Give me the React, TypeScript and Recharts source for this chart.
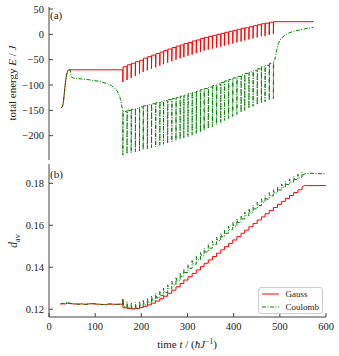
import React from 'react'
import { LineChart, Line, XAxis, YAxis, Legend } from 'recharts'

const FONT = '"Liberation Serif", "DejaVu Serif", serif'
const AXIS = '#444'
const INK = '#222'
const RED = '#ff0000'
const GREEN = '#008000'
const DASH = '4 1.5 1 1.5'
const TICK_LEN = 4

// ---- panel (a): total energy ----
const energyTicks = [50, 0, -50, -100, -150, -200]
const topPanelTimeTicks = [24, 109, 193, 278, 363, 448, 533]

const gaussEnergyLeadT = [26, 29, 31, 33, 35, 37, 39, 41, 43, 160]
const gaussEnergyLead = [-145, -143, -135, -118, -100, -86, -76, -71, -70, -70]
const coulombEnergyLeadT = [26, 29, 31, 33, 35, 37, 39, 41, 43, 46, 48, 52, 70, 90, 110, 125, 135, 142, 148, 152, 155, 157, 159, 160]
const coulombEnergyLead = [-145, -143, -135, -118, -100, -86, -76, -71, -70, -70, -84, -86, -88, -90, -93, -97, -101, -106, -112, -120, -128, -138, -148, -152]

const kickT = [160, 169, 178, 187, 196, 204, 213, 222, 231, 240, 248, 257, 266, 275, 284, 292, 301, 310, 319, 328, 336, 345, 354, 363, 372, 380, 389, 398, 407, 416, 424, 433, 442, 451, 460, 468, 477, 486]
const gaussTop = [-64, -60, -57, -54, -51, -47, -44, -41, -38, -35, -32, -29, -26, -23, -21, -18, -16, -13, -11, -8, -6, -4, -2, 0, 2, 4, 6, 8, 10, 12, 13, 15, 17, 19, 21, 22, 24, 25]
const gaussDip = [-94, -90, -86, -82, -78, -74, -71, -68, -65, -62, -59, -56, -53, -50, -47, -45, -42, -40, -37, -35, -32, -30, -28, -26, -24, -22, -20, -18, -16, -14, -12, -10, -8, -6, -4, -3, -1, 1]
const coulombTop = [-152, -150, -148, -146, -143, -141, -139, -137, -135, -133, -131, -129, -127, -125, -122, -120, -117, -115, -112, -109, -107, -104, -101, -98, -95, -92, -89, -86, -83, -80, -77, -74, -71, -68, -64, -61, -57, -53]
const coulombDip = [-238, -236, -234, -232, -230, -228, -226, -224, -222, -219, -217, -215, -212, -210, -207, -205, -202, -199, -196, -193, -190, -186, -182, -178, -174, -170, -166, -162, -158, -154, -150, -146, -142, -139, -136, -133, -130, -127]

const gaussEnergyTailT = [573]
const gaussEnergyTail = [25]
const coulombEnergyTailT = [489, 491, 493, 495, 497, 500, 505, 512, 520, 530, 545, 560, 573]
const coulombEnergyTail = [-50, -42, -32, -24, -18, -12, -6, -1, 3, 6, 9, 12, 14]

// ---- panel (b): d_av ----
const davTicks = [0.12, 0.14, 0.16, 0.18]
const timeTicks = [0, 100, 200, 300, 400, 500, 600]

const gaussDavLeadT = [25, 30, 35, 40, 45, 50, 55, 60, 65, 70, 75, 80, 85, 90, 95, 100, 105, 110, 115, 120, 125, 130, 135, 140, 145, 150, 155, 159, 160]
const gaussDavLead = [0.1224, 0.1226, 0.1225, 0.1229, 0.1227, 0.1226, 0.1225, 0.1225, 0.1224, 0.1226, 0.1224, 0.1223, 0.1225, 0.1226, 0.1226, 0.1225, 0.1224, 0.1224, 0.1223, 0.1222, 0.1223, 0.1225, 0.1224, 0.1224, 0.1223, 0.1223, 0.1224, 0.1224, 0.1246]
const coulombDavLeadT = [25, 30, 35, 40, 45, 50, 55, 60, 65, 70, 75, 80, 85, 90, 95, 100, 105, 110, 115, 120, 125, 130, 135, 140, 145, 150, 155, 160]
const coulombDavLead = [0.1227, 0.1228, 0.1228, 0.1233, 0.1229, 0.1227, 0.1226, 0.1225, 0.1224, 0.1225, 0.1225, 0.1223, 0.1226, 0.1227, 0.1227, 0.1226, 0.1225, 0.1223, 0.1222, 0.1223, 0.1224, 0.1225, 0.1225, 0.1224, 0.1224, 0.1224, 0.1224, 0.1224]

const davKickT = [...kickT, 495, 504, 512, 521, 530, 539, 548]
const gaussDavStep = [0.1207, 0.1204, 0.1202, 0.1204, 0.1208, 0.1214, 0.1221, 0.1229, 0.1239, 0.125, 0.1262, 0.1276, 0.1291, 0.1307, 0.1323, 0.1339, 0.1355, 0.1371, 0.1387, 0.1403, 0.1419, 0.1435, 0.1451, 0.1467, 0.1483, 0.1498, 0.1514, 0.153, 0.1546, 0.1562, 0.1577, 0.1593, 0.1609, 0.1625, 0.164, 0.1655, 0.167, 0.1685, 0.17, 0.1714, 0.1728, 0.1742, 0.1756, 0.1769, 0.1782]
const coulombDavPeak = [0.1252, 0.1236, 0.1232, 0.1233, 0.1238, 0.1245, 0.1254, 0.1264, 0.1275, 0.1287, 0.13, 0.1316, 0.1334, 0.1353, 0.1373, 0.1392, 0.1412, 0.1432, 0.1452, 0.1472, 0.149, 0.1508, 0.1526, 0.1544, 0.1562, 0.1579, 0.1596, 0.1613, 0.163, 0.1647, 0.1663, 0.1679, 0.1695, 0.1711, 0.1726, 0.1741, 0.1756, 0.177, 0.1784, 0.1797, 0.1809, 0.1821, 0.1833, 0.1844, 0.1852]
const coulombDavBase = [0.1212, 0.1205, 0.12, 0.1202, 0.121, 0.122, 0.123, 0.1242, 0.1254, 0.1266, 0.128, 0.1297, 0.1316, 0.1335, 0.1355, 0.1375, 0.1395, 0.1415, 0.1435, 0.1455, 0.1473, 0.1491, 0.1509, 0.1527, 0.1545, 0.1562, 0.1579, 0.1596, 0.1613, 0.163, 0.1646, 0.1662, 0.1678, 0.1694, 0.171, 0.1725, 0.174, 0.1754, 0.1768, 0.1781, 0.1794, 0.1806, 0.1818, 0.1829, 0.1839]

const gaussDavTailT = [553, 600]
const gaussDavTail = [0.1789, 0.1789]
const coulombDavTailT = [555, 565, 580, 600]
const coulombDavTail = [0.1846, 0.1848, 0.1846, 0.1846]

const legendNames = ['Gauss', 'Coulomb']

type Pt = { t: number; v: number }

const zip = (ts: number[], vs: number[]): Pt[] => ts.map((t, i) => ({ t, v: vs[i] }))

// horizontal level, vertical dip at each kick, back up to the new level
function teeth(ts: number[], tops: number[], dips: number[], start: number): Pt[] {
  const out: Pt[] = []
  let prev = start
  ts.forEach((t, i) => {
    out.push({ t, v: prev }, { t, v: dips[i] }, { t: t + 0.6, v: tops[i] })
    prev = tops[i]
  })
  return out
}

function stairs(ts: number[], vals: number[], start: number): Pt[] {
  const out: Pt[] = []
  let prev = start
  ts.forEach((t, i) => {
    out.push({ t, v: prev }, { t, v: vals[i] })
    prev = vals[i]
  })
  return out
}

function spikes(ts: number[], peaks: number[], bases: number[], start: number): Pt[] {
  const out: Pt[] = []
  let prev = start
  ts.forEach((t, i) => {
    out.push({ t, v: prev }, { t, v: peaks[i] }, { t: t + 2, v: bases[i] })
    prev = bases[i]
  })
  return out
}

const gaussEnergy = [
  ...zip(gaussEnergyLeadT, gaussEnergyLead),
  ...teeth(kickT, gaussTop, gaussDip, gaussEnergyLead[gaussEnergyLead.length - 1]),
  ...zip(gaussEnergyTailT, gaussEnergyTail),
]
const coulombEnergy = [
  ...zip(coulombEnergyLeadT, coulombEnergyLead),
  ...teeth(kickT, coulombTop, coulombDip, coulombEnergyLead[coulombEnergyLead.length - 1]),
  ...zip(coulombEnergyTailT, coulombEnergyTail),
]
const gaussDav = [
  ...zip(gaussDavLeadT, gaussDavLead),
  ...stairs(davKickT, gaussDavStep, gaussDavLead[gaussDavLead.length - 1]),
  ...zip(gaussDavTailT, gaussDavTail),
]
const coulombDav = [
  ...zip(coulombDavLeadT, coulombDavLead),
  ...spikes(davKickT, coulombDavPeak, coulombDavBase, coulombDavLead[coulombDavLead.length - 1]),
  ...zip(coulombDavTailT, coulombDavTail),
]

const minus = (v: number) => (v < 0 ? '\u2212' + Math.abs(v) : String(v))

// ticks point into the plot on every side
const tickFor = (side: string, fmt?: (v: number) => string) => (p: any) => {
  const { x, y, payload } = p
  if (side === 'left') {
    return (
      <g>
        <line x1={x} x2={x + TICK_LEN} y1={y} y2={y} stroke={AXIS} />
        {fmt && (
          <text x={x - 5} y={y} dy="0.35em" textAnchor="end" fontSize={10.5} fill={INK} fontFamily={FONT}>
            {fmt(payload.value)}
          </text>
        )}
      </g>
    )
  }
  if (side === 'right') {
    return <line x1={x - TICK_LEN} x2={x} y1={y} y2={y} stroke={AXIS} />
  }
  if (side === 'top') {
    return <line x1={x} x2={x} y1={y} y2={y + TICK_LEN} stroke={AXIS} />
  }
  return (
    <g>
      <line x1={x} x2={x} y1={y} y2={y - TICK_LEN} stroke={AXIS} />
      {fmt && (
        <text x={x} y={y + 13} textAnchor="middle" fontSize={10.5} fill={INK} fontFamily={FONT}>
          {fmt(payload.value)}
        </text>
      )}
    </g>
  )
}

const LegendBox = () => (
  <div
    style={{
      width: 65,
      height: 27,
      boxSizing: 'border-box',
      border: '1px solid #cfcfcf',
      borderRadius: 3,
      background: '#fff',
      paddingLeft: 3,
      paddingTop: 0,
      fontFamily: FONT,
      fontSize: 9,
      color: INK,
    }}
  >
    {legendNames.map((name, i) => (
      <div key={name} style={{ display: 'flex', alignItems: 'center', height: 12.4 }}>
        <svg width={17} height={4}>
          <line x1={0} x2={17} y1={2} y2={2} stroke={i === 0 ? RED : GREEN} strokeDasharray={i === 0 ? undefined : DASH} />
        </svg>
        <span style={{ marginLeft: 6.5, lineHeight: '12px' }}>{name}</span>
      </div>
    ))}
  </div>
)

function axesFor(xTicks: number[], yTicks: number[], yDomain: number[], withLabels: boolean, yFmt: (v: number) => string, bottomH: number) {
  return [
    <XAxis
      key="xb"
      xAxisId="b"
      type="number"
      dataKey="t"
      domain={[0, 600]}
      allowDataOverflow
      ticks={xTicks}
      interval={0}
      height={bottomH}
      tickSize={0}
      tickMargin={0}
      tickLine={false}
      axisLine={{ stroke: AXIS }}
      tick={tickFor('bottom', withLabels ? (v: number) => String(v) : undefined)}
    />,
    <XAxis
      key="xt"
      xAxisId="t"
      orientation="top"
      type="number"
      dataKey="t"
      domain={[0, 600]}
      allowDataOverflow
      ticks={xTicks}
      interval={0}
      height={0}
      tickSize={0}
      tickMargin={0}
      tickLine={false}
      axisLine={{ stroke: AXIS }}
      tick={tickFor('top')}
    />,
    <YAxis
      key="yl"
      yAxisId="l"
      type="number"
      domain={yDomain}
      allowDataOverflow
      ticks={yTicks}
      interval={0}
      width={49}
      tickSize={0}
      tickMargin={0}
      tickLine={false}
      axisLine={{ stroke: AXIS }}
      tick={tickFor('left', yFmt)}
    />,
    <YAxis
      key="yr"
      yAxisId="r"
      orientation="right"
      type="number"
      domain={yDomain}
      allowDataOverflow
      ticks={yTicks}
      interval={0}
      width={0}
      tickSize={0}
      tickMargin={0}
      tickLine={false}
      axisLine={{ stroke: AXIS }}
      tick={tickFor('right')}
    />,
  ]
}

export default function App() {
  return (
    <div style={{ position: 'absolute', left: 0, top: 0, width: 339, height: 356, background: '#fff', fontFamily: FONT }}>
      <div style={{ position: 'absolute', left: 0, top: 0 }}>
        <LineChart width={339} height={162} margin={{ top: 7, right: 13, bottom: 2, left: 0 }}>
          {axesFor(topPanelTimeTicks, energyTicks, [-248, 54], false, minus, 0)}
          <Line data={gaussEnergy} dataKey="v" xAxisId="b" yAxisId="l" type="linear" stroke={RED} strokeWidth={1} dot={false} isAnimationActive={false} />
          <Line data={coulombEnergy} dataKey="v" xAxisId="b" yAxisId="l" type="linear" stroke={GREEN} strokeWidth={1} strokeDasharray={DASH} dot={false} isAnimationActive={false} />
        </LineChart>
      </div>
      <div style={{ position: 'absolute', left: 0, top: 162 }}>
        <LineChart width={339} height={194} margin={{ top: 2, right: 13, bottom: 0, left: 0 }}>
          {axesFor(timeTicks, davTicks, [0.1163, 0.1892], true, (v: number) => v.toFixed(2), 39)}
          <Line data={gaussDav} dataKey="v" name={legendNames[0]} xAxisId="b" yAxisId="l" type="linear" stroke={RED} strokeWidth={1} dot={false} isAnimationActive={false} />
          <Line data={coulombDav} dataKey="v" name={legendNames[1]} xAxisId="b" yAxisId="l" type="linear" stroke={GREEN} strokeWidth={1} strokeDasharray={DASH} dot={false} isAnimationActive={false} />
          <Legend
            layout="vertical"
            align="center"
            verticalAlign="middle"
            wrapperStyle={{ left: 258, top: 125, width: 65, height: 27 }}
            content={() => <LegendBox />}
          />
        </LineChart>
      </div>
      <svg width={339} height={356} style={{ position: 'absolute', left: 0, top: 0, pointerEvents: 'none' }} fontFamily={FONT} fill={INK}>
        <text x={50} y={19} fontSize={11}>(a)</text>
        <text x={50} y={178} fontSize={11}>(b)</text>
        <text transform="translate(15.5,83) rotate(-90)" textAnchor="middle" fontSize={11}>
          total energy <tspan fontStyle="italic">E</tspan> / <tspan fontStyle="italic">J</tspan>
        </text>
        <text transform="translate(17,241) rotate(-90)" textAnchor="middle" fontSize={11.5}>
          <tspan fontStyle="italic">d</tspan>
          <tspan fontSize={8} dy={2.5}>av</tspan>
        </text>
        <text x={187} y={348} textAnchor="middle" fontSize={11}>
          time <tspan fontStyle="italic">t</tspan> / (<tspan fontStyle="italic">ħJ</tspan>
          <tspan fontSize={7.5} dy={-4}>−1</tspan>
          <tspan dy={4}>)</tspan>
        </text>
      </svg>
    </div>
  )
}
